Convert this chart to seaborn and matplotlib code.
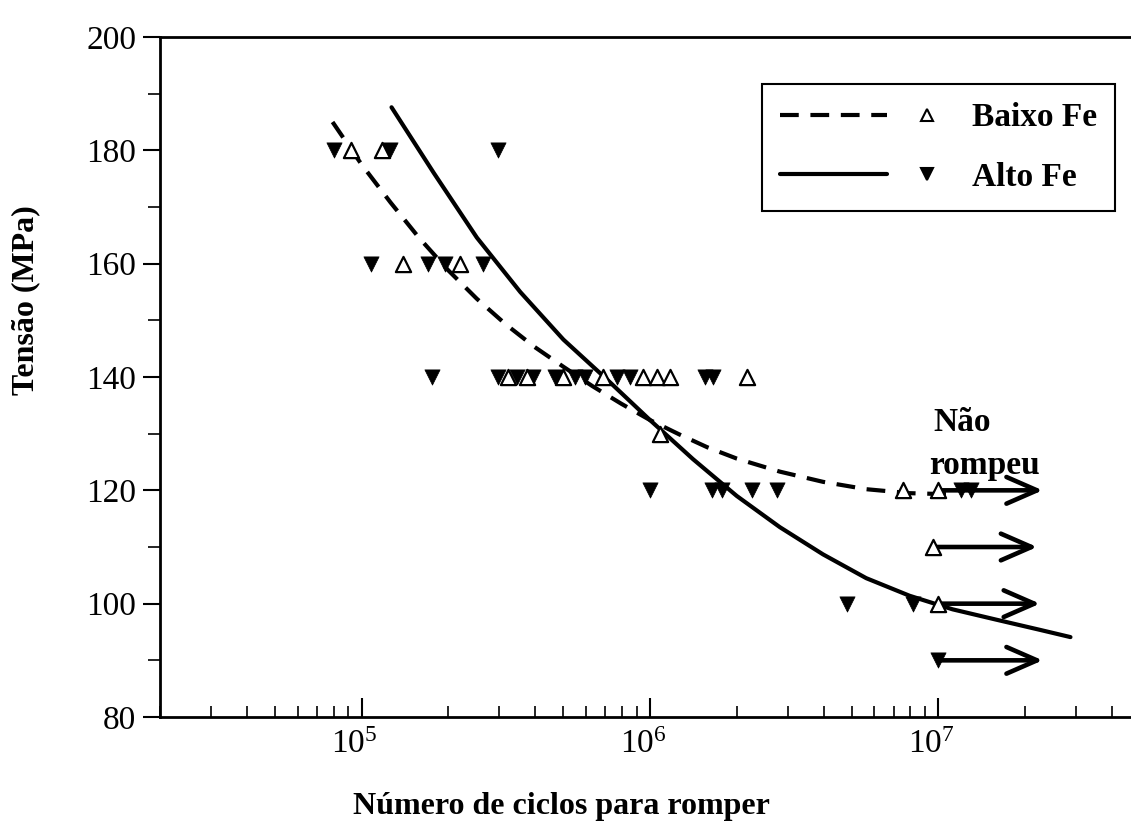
import numpy as np
import pandas as pd
import matplotlib
matplotlib.use("Agg")
import matplotlib.pyplot as plt
import seaborn as sns
from matplotlib.lines import Line2D
from matplotlib.transforms import ScaledTranslation
from matplotlib.ticker import LogLocator, MultipleLocator, FuncFormatter, NullFormatter

# ---------------- data ----------------
baixo_x = [9.2e4, 1.18e5, 1.39e5, 2.19e5, 3.21e5, 3.74e5, 4.99e5, 6.87e5, 9.46e5,
           1.06e6, 1.17e6, 2.17e6, 1.08e6, 7.55e6, 1.0e7, 9.6e6, 1.0e7]
baixo_y = [180, 180, 160, 160, 140, 140, 140, 140, 140,
           140, 140, 140, 130, 120, 120, 110, 100]

alto_x = [8.05e4, 1.25e5, 2.97e5, 1.08e5, 1.70e5, 1.94e5, 2.63e5, 1.75e5, 2.97e5,
          3.45e5, 3.92e5, 4.68e5, 5.49e5, 5.95e5, 7.68e5, 8.52e5, 1.55e6, 1.65e6,
          1.0e6, 1.64e6, 1.78e6, 2.26e6, 2.76e6, 1.2e7, 1.3e7, 4.83e6, 8.18e6, 1.0e7]
alto_y = [180, 180, 180, 160, 160, 160, 160, 140, 140,
          140, 140, 140, 140, 140, 140, 140, 140, 140,
          120, 120, 120, 120, 120, 120, 120, 100, 100, 90]

# fitted curves
baixo_curve_x = [7.93e4, 1.0e5, 1.26e5, 1.58e5, 2.0e5, 2.51e5, 3.16e5, 3.98e5, 5.01e5,
                 6.31e5, 7.94e5, 1.0e6, 1.26e6, 1.58e6, 2.0e6, 2.82e6, 3.98e6, 5.62e6,
                 7.94e6, 1.1e7]
baixo_curve_y = [185.0, 177.5, 170.8, 164.6, 158.8, 153.8, 149.3, 145.3, 141.8,
                 138.4, 135.3, 132.4, 129.9, 127.6, 125.6, 123.3, 121.5, 120.2,
                 119.5, 119.3]

alto_curve_x = [1.27e5, 1.78e5, 2.51e5, 3.55e5, 5.01e5, 7.08e5, 1.0e6, 1.41e6, 2.0e6,
                2.82e6, 3.98e6, 5.62e6, 7.94e6, 1.12e7, 1.58e7, 2.24e7, 2.87e7]
alto_curve_y = [187.6, 176.0, 164.6, 155.0, 146.6, 139.6, 132.4, 125.5, 119.0,
                113.5, 108.7, 104.5, 101.4, 99.0, 97.2, 95.4, 94.1]

# run-outs ("Não rompeu")
runout_y = [120, 110, 100, 90]
runout_start = [1.0e7, 9.6e6, 1.0e7, 1.0e7]
runout_end = [2.3e7, 2.2e7, 2.25e7, 2.3e7]

xticks = [1e5, 1e6, 1e7]
yticks = [80, 100, 120, 140, 160, 180, 200]

# ---------------- style ----------------
sns.set_theme(style="white")
plt.rcParams["font.family"] = ["Liberation Serif", "DejaVu Serif"]
plt.rcParams["text.color"] = "black"
plt.rcParams["axes.labelcolor"] = "black"
plt.rcParams["mathtext.fontset"] = "custom"
plt.rcParams["mathtext.rm"] = "Liberation Serif"
plt.rcParams["mathtext.it"] = "Liberation Serif:italic"
plt.rcParams["mathtext.bf"] = "Liberation Serif:bold"

fig = plt.figure(figsize=(11.31, 8.24), dpi=100)
ax = fig.add_axes([160 / 1131, 107 / 824, 980 / 1131, 680 / 824])

dash = (0, (4.5, 2.8))

sns.lineplot(x=baixo_curve_x, y=baixo_curve_y, ax=ax, color="black", lw=3,
             linestyle=dash, zorder=2)
sns.lineplot(x=alto_curve_x, y=alto_curve_y, ax=ax, color="black", lw=3, zorder=2)

for y, x0, x1 in zip(runout_y, runout_start, runout_end):
    ax.annotate("", xy=(x1, y), xytext=(x0, y),
                arrowprops=dict(arrowstyle="->,head_length=0.55,head_width=0.24",
                                lw=3.3, color="black", shrinkA=0, shrinkB=0,
                                mutation_scale=40), zorder=3)

sns.scatterplot(x=alto_x, y=alto_y, ax=ax, marker="v", s=120, color="black",
                edgecolor="black", linewidth=0.5, zorder=4)
sns.scatterplot(x=baixo_x, y=baixo_y, ax=ax, marker="^", s=120, color="white",
                edgecolor="black", linewidth=1.6, zorder=5)

ax.set_xscale("log")
ax.set_xlim(2e4, 5e7)
ax.set_ylim(80, 200)
ax.set_xticks(xticks)
ax.xaxis.set_major_formatter(FuncFormatter(lambda v, p: r"$\mathregular{10^{%d}}$" % round(np.log10(v))))
ax.xaxis.set_minor_locator(LogLocator(base=10, subs=np.arange(2, 10)))
ax.xaxis.set_minor_formatter(NullFormatter())
ax.set_yticks(yticks)
ax.yaxis.set_minor_locator(MultipleLocator(10))

ax.tick_params(axis="x", which="both", direction="in", bottom=True, top=False, colors="black")
ax.tick_params(axis="x", which="major", length=14, width=1.5, labelsize=24, pad=9)
ax.tick_params(axis="x", which="minor", length=8, width=1.2)
ax.tick_params(axis="y", which="both", direction="out", left=True, right=False, colors="black")
ax.tick_params(axis="y", which="major", length=12, width=1.5, labelsize=24, pad=5)
ax.tick_params(axis="y", which="minor", length=9, width=1.2)

shift = ScaledTranslation(-7 / 100, 0, fig.dpi_scale_trans)
for lbl in ax.get_xticklabels():
    lbl.set_transform(lbl.get_transform() + shift)

for side in ["left", "bottom", "top"]:
    ax.spines[side].set_color("black")
    ax.spines[side].set_linewidth(2)
ax.spines["right"].set_visible(False)

ax.set_xlabel("Número de ciclos para romper", fontsize=23, fontweight="bold", color="black")
ax.set_ylabel("Tensão (MPa)", fontsize=23, fontweight="bold", color="black")
ax.xaxis.set_label_coords(0.41, -0.11)
ax.yaxis.set_label_coords(-0.122, 0.613)

ax.text(9.6e6, 131.9, "Não", fontsize=24, fontweight="bold", ha="left", va="center",
        color="black")
ax.text(9.3e6, 124.3, "rompeu", fontsize=24, fontweight="bold", ha="left", va="center",
        color="black")


class LineMarkerHandler:
    def __init__(self, linestyle, marker, face):
        self.linestyle = linestyle
        self.marker = marker
        self.face = face

    def legend_artist(self, legend, orig_handle, fontsize, handlebox):
        x0, y0 = handlebox.xdescent, handlebox.ydescent
        w, h = handlebox.width, handlebox.height
        tr = handlebox.get_transform()
        ln = Line2D([x0, x0 + 0.7 * w], [y0 + h / 2] * 2, color="black", lw=3,
                    linestyle=self.linestyle, transform=tr)
        mk = Line2D([x0 + 0.96 * w], [y0 + h / 2], ls="", marker=self.marker,
                    markersize=8, markerfacecolor=self.face, markeredgecolor="black",
                    markeredgewidth=1.5, transform=tr)
        handlebox.add_artist(ln)
        handlebox.add_artist(mk)
        return ln


h1 = Line2D([], [], label="Baixo Fe")
h2 = Line2D([], [], label="Alto Fe")
leg = ax.legend(handles=[h1, h2], labels=["Baixo Fe", "Alto Fe"],
                handler_map={h1: LineMarkerHandler((0, (4.5, 2.8)), "^", "white"),
                             h2: LineMarkerHandler("-", "v", "black")},
                loc="upper right", bbox_to_anchor=(0.9745, 0.931), borderaxespad=0,
                prop={"size": 24, "weight": "bold"}, handlelength=4.6,
                handletextpad=1.15, labelspacing=0.85, borderpad=0.55,
                frameon=True, fancybox=False, framealpha=1, edgecolor="black")
leg.get_frame().set_linewidth(1.5)
for t in leg.get_texts():
    t.set_color("black")

fig.savefig("out.png", dpi=100)
